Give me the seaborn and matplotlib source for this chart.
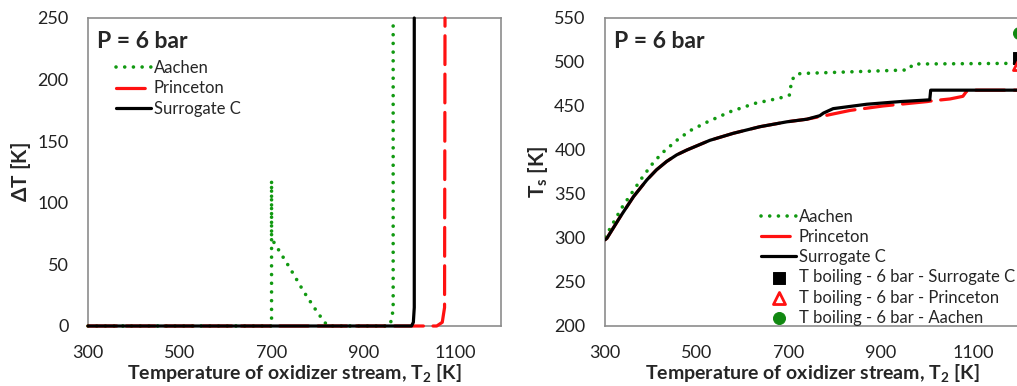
import numpy as np
import pandas as pd
import matplotlib.pyplot as plt
import seaborn as sns

sns.set_style('white')
plt.rcParams['font.family'] = ['Lato', 'DejaVu Sans']
plt.rcParams['mathtext.fontset'] = 'custom'
plt.rcParams['mathtext.rm'] = 'Lato'
plt.rcParams['mathtext.bf'] = 'Lato:bold'

##### Data ######################################################################
# Left panel: Delta T vs oxidizer temperature
aachen_dt_T = [300, 700, 700, 700, 705, 740, 770, 800, 822, 955, 962, 965, 965]
aachen_dt = [0, 0, 118, 70, 68, 47, 28, 11, 0, 0, 5, 15, 250]
princeton_dt_T = [300, 1060, 1072, 1077, 1078]
princeton_dt = [0, 0, 3, 15, 250]
surr_dt_T = [300, 1005, 1009, 1011, 1011]
surr_dt = [0, 0, 3, 15, 250]

# Right panel: T_s vs oxidizer temperature
aachen_T = [300, 307, 336, 358, 380, 401, 423, 456, 485, 521, 572, 626, 680, 701, 706, 717,
            730, 959, 970, 1200]
aachen_Ts = [301, 307, 334, 351, 368, 383, 396, 411, 422, 431.5, 443.5, 453, 459, 462.5,
             479.5, 486.4, 487, 491, 497.7, 498.5]
princeton_T = [300, 304, 333, 362, 391, 412, 434, 456, 478, 528, 579, 637, 695, 739, 767, 778,
               833, 904, 1000, 1013, 1050, 1078, 1085, 1090, 1200]
princeton_Ts = [298, 299.6, 324, 347, 366, 377.5, 387, 394.5, 400, 411, 419, 426.5, 432, 435,
                438, 439, 445, 450, 455, 456, 458, 461, 466, 468, 468]
surr_T = [300, 304, 333, 362, 391, 412, 434, 456, 478, 528, 579, 637, 695, 739, 767, 775, 796,
          869, 941, 1006, 1008, 1200]
surr_Ts = [298, 299.6, 324, 347, 366, 377.5, 387, 394.5, 400, 411, 419, 426.5, 432, 435, 439,
           442, 447, 452, 455, 457, 468, 468]

# Boiling points
boil_T = [1200, 1200, 1200]
boil_Ts = [505, 498, 533]
boil_names = ['T boiling - 6 bar - Surrogate C', 'T boiling - 6 bar - Princeton',
              'T boiling - 6 bar - Aachen']

xticks = [300, 500, 700, 900, 1100]

##### Styles ####################################################################
green = '#119911'
red = '#ff1111'
spine_col = '#8c8c8c'
dot_kws = dict(color=green, lw=2.6, linestyle=(0, (0.01, 2.4)), zorder=3)
dash_kws = dict(color=red, lw=2.3, linestyle=(0, (9, 3)), zorder=3)
solid_kws = dict(color='black', lw=2.3, zorder=3)

##### Figure ####################################################################
fig = plt.figure(figsize=(10.17, 3.86), dpi=100)
W, H = 1017, 386
ax1 = fig.add_axes([88 / W, 60 / H, (501 - 88) / W, 308 / H])
ax2 = fig.add_axes([605 / W, 60 / H, (1019 - 605) / W, 308 / H])

# Left panel
sns.lineplot(ax=ax1, x=aachen_dt_T, y=aachen_dt, sort=False, estimator=None,
             label='Aachen', clip_on=False, **dot_kws)
sns.lineplot(ax=ax1, x=princeton_dt_T, y=princeton_dt, sort=False, estimator=None,
             label='Princeton', clip_on=False, **dash_kws)
sns.lineplot(ax=ax1, x=surr_dt_T, y=surr_dt, sort=False, estimator=None,
             label='Surrogate C', clip_on=False, **solid_kws)
ax1.set_xlim(300, 1200)
ax1.set_ylim(0, 250)
ax1.set_yticks(range(0, 251, 50))
ax1.set_ylabel(r'$\mathbf{\Delta}$T [K]', fontsize=15, fontweight='bold', labelpad=3)

# Right panel
sns.lineplot(ax=ax2, x=aachen_T, y=aachen_Ts, sort=False, estimator=None,
             label='Aachen', **dot_kws)
sns.lineplot(ax=ax2, x=princeton_T, y=princeton_Ts, sort=False, estimator=None,
             label='Princeton', **dash_kws)
sns.lineplot(ax=ax2, x=surr_T, y=surr_Ts, sort=False, estimator=None,
             label='Surrogate C', **solid_kws)
sns.scatterplot(ax=ax2, x=boil_T[:1], y=boil_Ts[:1], marker='s', s=70, color='black',
                edgecolor='black', label=boil_names[0], clip_on=False, zorder=5)
sns.scatterplot(ax=ax2, x=boil_T[1:2], y=boil_Ts[1:2], marker='^', s=75, facecolor='white',
                edgecolor=red, linewidth=2, label=boil_names[1], clip_on=False, zorder=5)
sns.scatterplot(ax=ax2, x=boil_T[2:], y=boil_Ts[2:], marker='o', s=75, color='#118811',
                edgecolor='#118811', label=boil_names[2], clip_on=False, zorder=5)
ax2.set_xlim(300, 1200)
ax2.set_ylim(200, 550)
ax2.set_yticks(range(200, 551, 50))
ax2.set_ylabel(r'T$_\mathbf{s}$ [K]', fontsize=15, fontweight='bold', labelpad=3)

for ax in (ax1, ax2):
    # round dots for the dotted series
    for ln in ax.lines:
        ln.set_dash_capstyle('round')
    ax.set_xticks(xticks)
    ax.set_xlabel(r'Temperature of oxidizer stream, T$_\mathbf{2}$ [K]', fontsize=14,
                  fontweight='bold', labelpad=1)
    ax.tick_params(axis='both', direction='out', length=5, width=1, color=spine_col,
                   labelsize=13, labelcolor='#222222', pad=9)
    for sp in ax.spines.values():
        sp.set_color(spine_col)
        sp.set_linewidth(1.2)
    ax.text(0.022, 0.925, 'P = 6 bar', transform=ax.transAxes, fontsize=16.5,
            fontweight='bold', va='center', ha='left')

ax1.legend(loc='upper left', bbox_to_anchor=(0.048, 0.89), frameon=False, fontsize=12,
           handlelength=2.1, handletextpad=0.15, labelspacing=0.25, borderpad=0)
h, l = ax2.get_legend_handles_labels()
ax2.legend(h, l, loc='upper left', bbox_to_anchor=(0.357, 0.407), frameon=False, fontsize=12,
           handlelength=2.1, handletextpad=0.15, labelspacing=0.25, borderpad=0)

fig.savefig('out.png', dpi=100)
